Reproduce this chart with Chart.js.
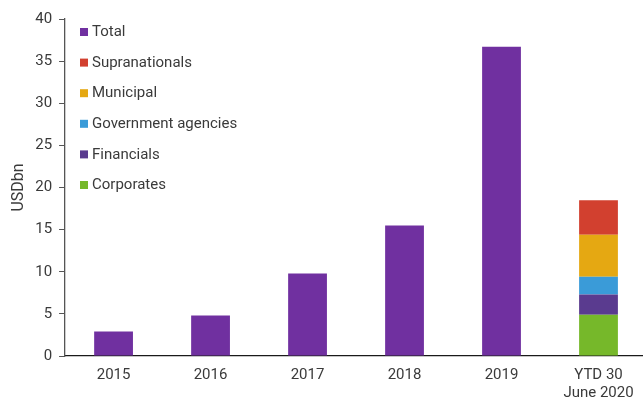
<!DOCTYPE html>
<html>
<head>
<meta charset="utf-8">
<script src="https://cdn.jsdelivr.net/npm/chart.js@4/dist/chart.umd.min.js"></script>
<style>
  html, body { margin: 0; padding: 0; background: #fff; overflow: hidden; }
  #wrap { width: 643px; height: 399px; overflow: hidden; }
</style>
</head>
<body>
<div id="wrap"><canvas id="myChart" width="647" height="399"></canvas></div>
<script>
const years = ["2015", "2016", "2017", "2018", "2019", ["YTD 30", "June 2020"]];
const total = [2.9, 4.8, 9.8, 15.5, 36.7, null];
const corporates = [null, null, null, null, null, 4.9];
const financials = [null, null, null, null, null, 2.4];
const govAgencies = [null, null, null, null, null, 2.1];
const municipal = [null, null, null, null, null, 5.0];
const supranationals = [null, null, null, null, null, 4.1];
const yTicks = [0, 5, 10, 15, 20, 25, 30, 35, 40];

const fontName = "Roboto, 'Open Sans', sans-serif";
const textColor = "#3a3a3a";

// leyenda vertical dentro del area, arriba a la izquierda
const leyenda = {
  id: "leyenda",
  afterDraw(chart) {
    const c = chart.ctx;
    const items = chart.data.datasets.slice().reverse();
    c.save();
    c.font = "15px " + fontName;
    c.textBaseline = "middle";
    items.forEach((ds, i) => {
      const y = 32 + i * 30.6;
      c.fillStyle = ds.backgroundColor;
      c.fillRect(80, y - 4, 8, 8);
      c.fillStyle = textColor;
      c.fillText(ds.label, 92, y + 0.5);
    });
    c.restore();
  }
};

const ctx = document.getElementById("myChart").getContext("2d");
const myChart = new Chart(ctx, {
  type: "bar",
  data: {
    labels: years,
    datasets: [
      { label: "Corporates", data: corporates, backgroundColor: "#76b82a" },
      { label: "Financials", data: financials, backgroundColor: "#5a3b8f" },
      { label: "Government agencies", data: govAgencies, backgroundColor: "#3a9bd8" },
      { label: "Municipal", data: municipal, backgroundColor: "#e5a812" },
      { label: "Supranationals", data: supranationals, backgroundColor: "#d2402f" },
      { label: "Total", data: total, backgroundColor: "#7030a0" },
    ],
  },
  options: {
    responsive: false,
    animation: false,
    layout: { padding: { top: 19, right: 0, bottom: -13, left: 9 } },
    plugins: {
      legend: { display: false },
      tooltip: { enabled: false },
    },
    datasets: {
      bar: { categoryPercentage: 1, barPercentage: 0.4 },
    },
    scales: {
      x: {
        stacked: true,
        grid: { display: false, drawTicks: false },
        border: { color: "#1a1a1a", width: 1.3 },
        ticks: { color: textColor, font: { family: fontName, size: 15 }, padding: 10, maxRotation: 0 },
      },
      y: {
        stacked: true,
        min: 0,
        max: 40,
        afterBuildTicks(axis) { axis.ticks = yTicks.map(v => ({ value: v })); },
        grid: { drawOnChartArea: false, drawTicks: true, tickLength: 6, color: "#555" },
        border: { color: "#555", width: 1.3 },
        ticks: { color: textColor, font: { family: fontName, size: 15 }, padding: 7 },
        title: { display: true, text: "USDbn", color: textColor, font: { family: fontName, size: 16 }, padding: { top: 0, bottom: 0 } },
      },
    },
  },
  plugins: [leyenda],
});
</script>
</body>
</html>
